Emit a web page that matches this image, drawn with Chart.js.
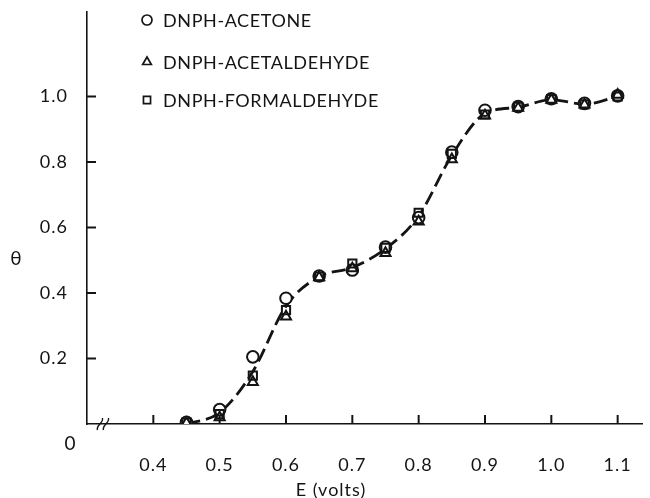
<!DOCTYPE html>
<html>
<head>
<meta charset="utf-8">
<title>Coverage vs potential</title>
<script src="https://cdn.jsdelivr.net/npm/chart.js@4/dist/chart.umd.min.js"></script>
<style>
  html, body { margin: 0; padding: 0; background: #fff; }
  #wrap { width: 650px; height: 498px; }
</style>
</head>
<body>
<div id="wrap"><canvas id="chart"></canvas></div>
<script>
// electrode potential (V) and surface coverage for each hydrazone
var voltage      = [0.45, 0.50, 0.55, 0.60, 0.65, 0.70, 0.75, 0.80, 0.85, 0.90, 0.95, 1.00, 1.05, 1.10];
var acetone      = [0.005, 0.044, 0.205, 0.384, 0.452, 0.470, 0.540, 0.630, 0.830, 0.958, 0.969, 0.993, 0.979, 1.002];
var acetaldehyde = [0.003, 0.020, 0.128, 0.328, 0.448, 0.475, 0.522, 0.618, 0.808, 0.942, 0.965, 0.990, 0.975, 1.005];
var formaldehyde = [0.004, 0.030, 0.148, 0.348, 0.450, 0.490, 0.538, 0.645, 0.825, 0.945, 0.968, 0.992, 0.976, 1.000];
var fitCurve     = [0.000, 0.035, 0.160, 0.360, 0.450, 0.478, 0.535, 0.635, 0.820, 0.948, 0.967, 0.990, 0.977, 1.000];

var xTicks = [0.4, 0.5, 0.6, 0.7, 0.8, 0.9, 1.0, 1.1];
var yTicks = [0.2, 0.4, 0.6, 0.8, 1.0];

var ink = '#141414';
var family = 'Lato, "DejaVu Sans", sans-serif';

function pts(ys) { return voltage.map((x, i) => ({ x: x, y: ys[i] })); }

function marker(label, data, style, fill, order) {
  return {
    label: label,
    data: pts(data),
    showLine: false,
    pointStyle: style,
    pointRadius: 5.8,
    pointBorderWidth: 2,
    pointBorderColor: ink,
    pointBackgroundColor: fill,
    order: order,
    inLegend: true
  };
}

// slightly wider lettering everywhere
var spacing = {
  id: 'spacing',
  beforeLayout(chart) { chart.ctx.letterSpacing = '1px'; },
  beforeDraw(chart) { chart.ctx.letterSpacing = '1px'; }
};

// inward tick marks, legend, axis titles, origin "0" and axis break
var extras = {
  id: 'extras',
  afterDraw(chart) {
    var ctx = chart.ctx;
    var area = chart.chartArea;
    var sx = chart.scales.x, sy = chart.scales.y;
    ctx.save();
    ctx.fillStyle = ink;
    ctx.strokeStyle = ink;
    ctx.setLineDash([]);
    ctx.lineWidth = 2;

    xTicks.forEach(v => {
      var px = sx.getPixelForValue(v);
      ctx.beginPath();
      ctx.moveTo(px, area.bottom);
      ctx.lineTo(px, area.bottom - 9);
      ctx.stroke();
    });
    yTicks.forEach(v => {
      var py = sy.getPixelForValue(v);
      ctx.beginPath();
      ctx.moveTo(area.left, py);
      ctx.lineTo(area.left + 9, py);
      ctx.stroke();
    });

    ctx.font = '18px ' + family;
    ctx.letterSpacing = '0.6px';
    ctx.textBaseline = 'middle';
    var rows = [20, 62, 100];
    chart.data.datasets.filter(d => d.inLegend).forEach((ds, i) => {
      ctx.save();
      ctx.fillStyle = '#fff';
      ctx.lineWidth = 1.7;
      Chart.helpers.drawPoint(ctx, { pointStyle: ds.pointStyle, radius: 5, borderWidth: 1.7, rotation: 0 }, 147, rows[i]);
      ctx.restore();
      ctx.textAlign = 'left';
      ctx.fillText(ds.label, 163, rows[i] + 1);
    });

    ctx.letterSpacing = '1px';
    ctx.textAlign = 'center';
    ctx.fillText('E (volts)', 331, 490);
    ctx.letterSpacing = '0px';
    ctx.font = '19px ' + family;
    ctx.fillText('\u03B8', 16, 259);
    ctx.fillText('0', 70, 444);

    // axis break on the E axis
    var bx = sx.getPixelForValue(0.324);
    var by = area.bottom;
    ctx.lineWidth = 1.4;
    [-3, 3].forEach(dx => {
      ctx.beginPath();
      ctx.moveTo(bx + dx - 2.5, by + 6);
      ctx.bezierCurveTo(bx + dx - 4, by + 1, bx + dx + 4, by - 1, bx + dx + 2.5, by - 6);
      ctx.stroke();
    });
    ctx.restore();
  }
};

var chart = new Chart(document.getElementById('chart'), {
  type: 'scatter',
  data: {
    datasets: [
      marker('DNPH-ACETONE', acetone, 'circle', '#fff', 3),
      marker('DNPH-ACETALDEHYDE', acetaldehyde, 'triangle', 'rgba(255,255,255,0)', 2),
      marker('DNPH-FORMALDEHYDE', formaldehyde, 'rect', 'rgba(255,255,255,0)', 1),
      {
        label: 'fit',
        data: pts(fitCurve),
        showLine: true,
        pointRadius: 0,
        borderColor: ink,
        borderWidth: 2.8,
        borderDash: [14, 6],
        cubicInterpolationMode: 'monotone',
        order: 5
      }
    ]
  },
  options: {
    responsive: true,
    maintainAspectRatio: false,
    animation: false,
    layout: { padding: { top: 12, left: 0, right: 0, bottom: 0 } },
    plugins: { legend: { display: false }, tooltip: { enabled: false } },
    scales: {
      x: {
        type: 'linear',
        min: 0.3,
        max: 1.137,
        afterBuildTicks: s => { s.ticks = xTicks.map(v => ({ value: v })); },
        afterFit: s => { s.height = 74; s.paddingLeft = 0; s.paddingRight = 0; },
        border: { display: true, color: ink, width: 1.6 },
        grid: { display: false },
        ticks: {
          padding: 22,
          color: ink,
          font: { family: family, size: 18 },
          maxRotation: 0,
          callback: v => v.toFixed(1)
        }
      },
      y: {
        type: 'linear',
        min: 0,
        max: 1.258,
        afterBuildTicks: s => { s.ticks = yTicks.map(v => ({ value: v })); },
        afterFit: s => { s.width = 87; s.paddingTop = 0; s.paddingBottom = 0; },
        border: { display: true, color: ink, width: 1.6 },
        grid: { display: false },
        ticks: {
          padding: 11,
          color: ink,
          font: { family: family, size: 18 },
          callback: v => v.toFixed(1)
        }
      }
    }
  },
  plugins: [spacing, extras]
});
</script>
</body>
</html>
